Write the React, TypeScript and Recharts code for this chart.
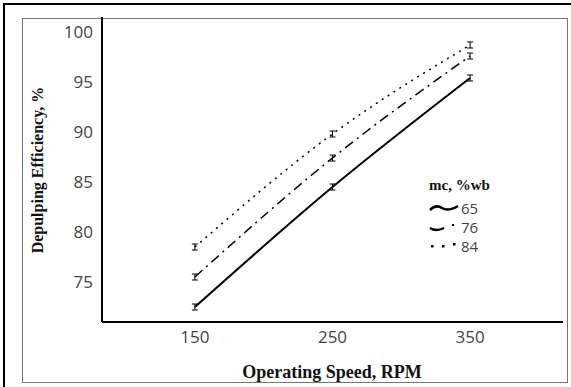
import React from "react";
import { ComposedChart, Line, XAxis, YAxis, ErrorBar } from "recharts";

// Operating speed (RPM) and depulping efficiency (%) per moisture content
const speeds = [150, 250, 350];
const mc65 = [72.5, 84.5, 95.4];
const mc76 = [75.5, 87.4, 97.6];
const mc84 = [78.5, 89.8, 98.7];
const err65 = [0.3, 0.3, 0.3];
const err76 = [0.3, 0.3, 0.3];
const err84 = [0.3, 0.3, 0.3];
const xTicks = [150, 250, 350];
const yTicks = [75, 80, 85, 90, 95, 100];
const legendLabels = ["65", "76", "84"];

const data = speeds.map((s, i) => ({
  speed: s,
  mc65: mc65[i],
  mc76: mc76[i],
  mc84: mc84[i],
  err65: err65[i],
  err76: err76[i],
  err84: err84[i],
}));

const tickStyle = { fontFamily: "Open Sans", fontSize: 17, fill: "#444" };
const serifBold = { fontFamily: "Liberation Serif", fontWeight: 700, color: "#111" };

export default function App() {
  return (
    <div style={{ position: "absolute", left: 0, top: 0, width: 571, height: 387, background: "#fff" }}>
      {/* outer frame */}
      <div style={{ position: "absolute", left: 3, top: 3, width: 2, height: 384, background: "#000" }} />
      <div style={{ position: "absolute", left: 3, top: 3, width: 568, height: 2, background: "#000" }} />
      <div style={{ position: "absolute", left: 22, top: 18, width: 546, height: 365, border: "1px solid #777", boxSizing: "border-box" }} />

      <div style={{ position: "absolute", left: 0, top: 0 }}>
        <ComposedChart width={571} height={387} data={data} margin={{ top: 17, right: 8, left: 0, bottom: 0 }}>
          <XAxis
            dataKey="speed"
            type="number"
            domain={[82.5, 417.5]}
            ticks={xTicks}
            tickLine={false}
            axisLine={{ stroke: "#000", strokeWidth: 2 }}
            tick={tickStyle}
            tickMargin={3}
            height={65}
          />
          <YAxis
            type="number"
            domain={[71, 101.5]}
            ticks={yTicks}
            tickLine={false}
            axisLine={{ stroke: "#000", strokeWidth: 2 }}
            tick={tickStyle}
            tickMargin={3}
            width={102}
            allowDataOverflow
          />
          <Line dataKey="mc65" type="monotone" stroke="#000" strokeWidth={2} dot={false} isAnimationActive={false}>
            <ErrorBar dataKey="err65" width={3} stroke="#000" strokeWidth={1} />
          </Line>
          <Line dataKey="mc76" type="monotone" stroke="#000" strokeWidth={1.5} strokeDasharray="10 5 2 5" dot={false} isAnimationActive={false}>
            <ErrorBar dataKey="err76" width={3} stroke="#000" strokeWidth={1} />
          </Line>
          <Line dataKey="mc84" type="monotone" stroke="#000" strokeWidth={1.5} strokeDasharray="2 5" dot={false} isAnimationActive={false}>
            <ErrorBar dataKey="err84" width={3} stroke="#000" strokeWidth={1} />
          </Line>
        </ComposedChart>
      </div>

      {/* axis titles */}
      <div style={{ ...serifBold, position: "absolute", left: 182, width: 300, top: 361, textAlign: "center", fontSize: 18, lineHeight: "22px" }}>
        Operating Speed, RPM
      </div>
      <div
        style={{
          ...serifBold,
          position: "absolute",
          left: 38 - 110,
          top: 170 - 10,
          width: 220,
          textAlign: "center",
          fontSize: 16,
          lineHeight: "20px",
          transform: "rotate(-90deg)",
        }}
      >
        Depulping Efficiency, %
      </div>

      {/* legend */}
      <div style={{ ...serifBold, position: "absolute", left: 429, top: 176, fontSize: 15, lineHeight: "18px" }}>mc, %wb</div>
      <svg style={{ position: "absolute", left: 428, top: 198 }} width={40} height={56}>
        <path d="M2 12 Q8 6 14 10 T30 8" stroke="#000" strokeWidth={2.5} fill="none" />
        <path d="M2 30 Q8 34 16 30" stroke="#000" strokeWidth={2.5} fill="none" />
        <rect x={24} y={26} width={2} height={2} fill="#000" />
        <rect x={3} y={47} width={2.5} height={2.5} fill="#000" />
        <rect x={14} y={47} width={2.5} height={2.5} fill="#000" />
        <rect x={25} y={45} width={2.5} height={2.5} fill="#000" />
      </svg>
      {legendLabels.map((t, i) => (
        <div
          key={t}
          style={{ position: "absolute", left: 461, top: 199 + i * 19, fontFamily: "Open Sans", fontSize: 15, color: "#444", lineHeight: "18px" }}
        >
          {t}
        </div>
      ))}
    </div>
  );
}
